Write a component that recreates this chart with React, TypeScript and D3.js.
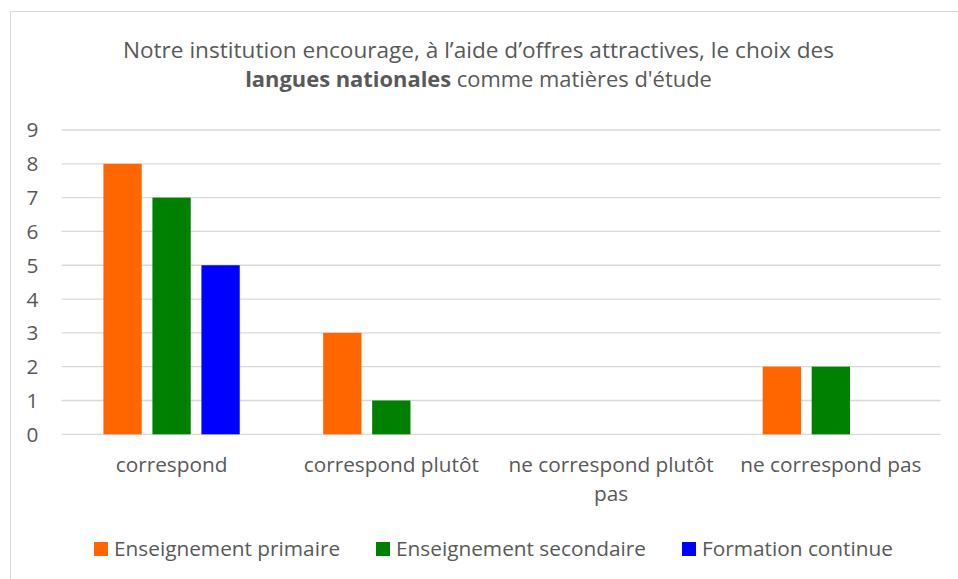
import React from "react";
import * as d3 from "d3";

const categories: string[][] = [
  ["correspond"],
  ["correspond plutôt"],
  ["ne correspond plutôt", "pas"],
  ["ne correspond pas"],
];
const seriesNames = ["Enseignement primaire", "Enseignement secondaire", "Formation continue"];
const primaire = [8, 3, 0, 2];
const secondaire = [7, 1, 0, 2];
const continue_ = [5, 0, 0, 0];
const seriesColors = ["#FF6600", "#008000", "#0000FF"];
const yTicks = [0, 1, 2, 3, 4, 5, 6, 7, 8, 9];
const legendX = [94, 376, 682];

const W = 958;
const H = 579;
const FONT = "'Open Sans', sans-serif";
const TXT = "#595959";
const LBL = 20.8;

export default function App() {
  const seriesValues = [primaire, secondaire, continue_];
  const x0 = d3
    .scaleBand<number>()
    .domain(categories.map((_, i) => i))
    .range([61.7, 940.7])
    .padding(0);
  const y = d3.scaleLinear().domain([0, 9]).range([434.3, 130]);
  const step = x0.bandwidth();

  return (
    <svg
      width={W}
      height={H}
      style={{ position: "absolute", left: 0, top: 0, background: "#fff" }}
      fontFamily={FONT}
    >
      <rect x={0} y={0} width={W} height={H} fill="#fff" />
      <line x1={10.5} y1={11} x2={10.5} y2={H} stroke="#d9d9d9" strokeWidth={1} />
      <line x1={10} y1={11.5} x2={W} y2={11.5} stroke="#d9d9d9" strokeWidth={1} />

      <text x={478.5} y={58} textAnchor="middle" fontSize={22.6} fill={TXT}>
        Notre institution encourage, à l’aide d’offres attractives, le choix des
      </text>
      <text x={478.5} y={87} textAnchor="middle" fontSize={21.9} fill={TXT}>
        <tspan fontWeight="bold">langues nationales</tspan> comme matières d'étude
      </text>

      {yTicks.map((t) => (
        <g key={t}>
          <line
            x1={61.7}
            x2={940.7}
            y1={y(t)}
            y2={y(t)}
            stroke="#d9d9d9"
            strokeWidth={1.3}
          />
          <text
            x={38.5}
            y={y(t)}
            dy="0.36em"
            textAnchor="end"
            fontSize={LBL}
            fill={TXT}
          >
            {t}
          </text>
        </g>
      ))}

      {categories.map((cat, ci) => {
        const c = (x0(ci) as number) + step / 2;
        const x1 = d3
          .scaleBand<number>()
          .domain([0, 1, 2])
          .range([c - 73.5, c + 73.5])
          .paddingInner(0.218)
          .paddingOuter(0.109);
        return (
          <g key={ci}>
            {seriesValues.map((vals, si) =>
              vals[ci] > 0 ? (
                <rect
                  key={si}
                  x={x1(si)}
                  y={y(vals[ci])}
                  width={x1.bandwidth()}
                  height={y(0) - y(vals[ci])}
                  fill={seriesColors[si]}
                />
              ) : null
            )}
            {cat.map((line, li) => (
              <text
                key={li}
                x={c}
                y={472 + li * 29}
                textAnchor="middle"
                fontSize={LBL}
                fill={TXT}
              >
                {line}
              </text>
            ))}
          </g>
        );
      })}

      {seriesNames.map((n, i) => (
        <g key={n}>
          <rect x={legendX[i]} y={542} width={14} height={14} fill={seriesColors[i]} />
          <text x={legendX[i] + 20} y={555.5} fontSize={LBL} fill={TXT}>
            {n}
          </text>
        </g>
      ))}
    </svg>
  );
}
